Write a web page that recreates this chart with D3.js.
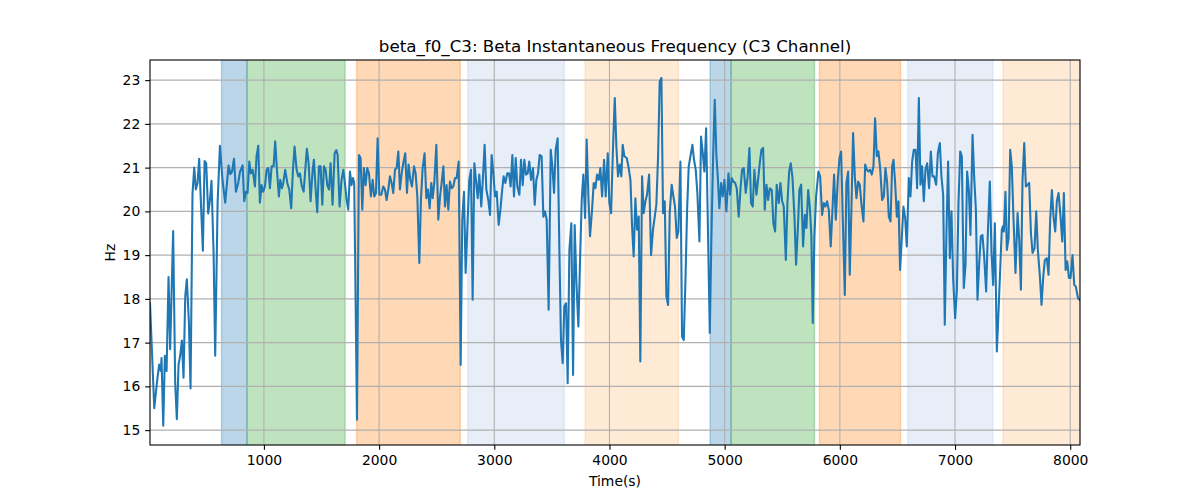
<!DOCTYPE html>
<html>
<head>
<meta charset="utf-8">
<script src="https://cdn.jsdelivr.net/npm/d3@7"></script>
<style>
  html, body { margin: 0; padding: 0; background: #ffffff; }
  svg { display: block; font-family: "DejaVu Sans", sans-serif; }
</style>
</head>
<body>
<svg id="chart" width="1200" height="500"></svg>
<script>
// ---- data ----
const chartTitle = "beta_f0_C3: Beta Instantaneous Frequency (C3 Channel)";
const xLabel = "Time(s)";
const yLabel = "Hz";
const xTicks = [1000, 2000, 3000, 4000, 5000, 6000, 7000, 8000];
const yTicks = [15, 16, 17, 18, 19, 20, 21, 22, 23];
const xDomain = [11, 8085];
const yDomain = [14.66, 23.46];

const times = [
  11,48,76,91,105,111,126,140,155,172,186,212,230,244,259,273,288,302,317,331,349,363,380,395,409,424,438,453,470,485,499,516,531,545,563,577,598,618,641,664,693,708,722,740,757,777,792,815,
  829,844,858,873,887,902,910,922,936,951,965,980,994,1009,1023,1038,1052,1067,1084,1098,1113,1130,1142,1156,1168,1185,1203,1220,1237,1252,1266,1284,1298,1313,1327,1345,1359,1373,1388,1405,1423,1434,1449,1463,1478,1492,1507,1521,1536,1550,1565,1579,1596,1614,1628,
  1640,1657,1674,1689,1703,1718,1732,1747,1761,1773,1784,1793,1808,1825,1839,1854,1868,1883,1897,1912,1929,1944,1958,1973,1987,2002,2019,2036,2051,2065,2080,2094,2109,2123,2138,2152,2167,2181,2196,2210,2227,2242,2256,2271,2285,2303,2317,2332,2349,2363,2378,2395,2410,2424,2439,2453,
  2465,2479,2497,2514,2529,2543,2558,2572,2586,2601,2615,2630,2644,2659,2673,2691,2708,2722,2737,2751,2769,2783,2798,2812,2827,2841,2856,2870,2887,2902,2916,2931,2948,2963,2977,2992,3006,3021,3038,3053,3067,3081,3096,3113,3128,3142,3157,3171,3186,3200,3218,3232,3247,3261,3275,
  3290,3304,3319,3336,3351,3365,3380,3394,3411,3426,3440,3455,3472,3490,3504,3519,3533,3550,3565,3579,3594,3608,3623,3637,3652,3669,3684,3698,3713,3730,3744,3759,3773,3788,3802,3817,3831,3849,3863,3878,3892,3907,3921,3936,3953,3967,3985,3999,4014,4031,4046,4060,4074,4089,4103,
  4115,4129,4150,4167,4182,4196,4210,4225,4239,4254,4268,4283,4297,4312,4326,4344,4361,4378,4393,4407,4422,4436,4451,4465,4480,4494,4509,4523,4540,4555,4569,4584,4598,4616,4630,4645,4659,4674,4688,4703,4720,4734,4749,4763,4781,4795,4810,4824,4839,4856,4871,4885,4900,4914,4928,
  4940,4954,4969,4983,4998,5015,5033,5047,5062,5076,5091,5105,5122,5137,5151,5166,5183,5200,5215,5229,5244,5258,5276,5290,5305,5319,5334,5348,5363,5377,5392,5409,5423,5438,5452,5470,5484,5499,5513,5531,5545,5560,5574,5589,5606,5620,5635,5649,5664,5681,5696,5710,5725,5739,5753,5765,
  5779,5794,5814,5829,5846,5861,5875,5889,5904,5921,5936,5950,5965,5982,5997,6011,6026,6043,6057,6072,6086,6101,6115,6130,6144,6159,6173,6188,6205,6220,6234,6248,6263,6277,6292,6306,6321,6335,6350,6367,6382,6396,6411,6425,6440,6454,6466,6480,6495,6509,6523,6538,6552,6567,6581,
  6599,6613,6628,6642,6657,6671,6686,6700,6714,6729,6743,6758,6775,6790,6804,6819,6836,6851,6868,6882,6897,6911,6926,6940,6955,6969,6984,7001,7016,7030,7045,7059,7076,7091,7105,7120,7134,7152,7166,7181,7195,7210,7224,7238,7253,7270,7285,7302,7317,7331,7346,7363,7377,7392,7406,
  7415,7424,7438,7450,7465,7479,7493,7508,7525,7543,7557,7572,7586,7601,7615,7630,7644,7659,7673,7690,7705,7719,7737,7751,7766,7780,7797,7812,7826,7841,7855,7870,7884,7899,7916,7931,7945,7960,7974,7989,8003,8020,8035,8049,8067,8081
];

const frequency = [
  17.9,15.5,16.2,16.5,16.35,16.65,15.1,16.7,16.35,18.5,16.85,19.55,16.05,15.25,16.5,16.7,17.05,16.2,18.05,18.45,17.45,15.95,20.4,21.0,20.5,20.65,21.2,20.2,19.1,21.15,21.1,19.95,20.25,20.7,19.05,16.7,20.2,21.5,20.7,20.2,21.05,20.85,20.9,21.2,20.45,20.65,20.9,21.05,
  20.23,20.45,20.42,21.14,20.87,20.95,20.8,20.57,21.26,21.5,20.2,20.6,20.45,20.57,20.95,20.99,20.53,21.03,21.03,21.6,20.95,20.34,20.72,20.53,20.65,20.95,20.65,20.5,20.07,20.95,21.48,20.95,20.8,20.87,20.6,20.45,20.95,21.43,21.1,20.23,20.95,21.18,20.5,19.98,21.03,21.03,20.15,21.03,20.95,20.6,20.5,21.1,20.15,21.33,21.4,
  21.29,20.11,20.72,20.95,20.65,20.26,20.04,20.91,20.6,20.76,20.65,18.66,15.24,21.29,21.22,20.04,20.99,20.6,20.99,20.87,20.34,20.72,20.34,20.42,21.67,20.38,20.38,20.57,20.5,20.26,20.5,20.8,20.65,20.42,20.95,20.99,21.37,20.5,20.87,21.1,21.33,20.42,21.07,20.72,20.57,21.03,20.87,20.34,18.82,20.26,20.99,21.33,20.3,20.5,20.07,20.65,
  20.3,20.65,21.52,19.81,20.34,20.65,21.03,20.11,20.6,20.04,20.68,20.53,20.57,20.76,20.76,21.14,16.49,19.81,20.45,18.59,19.81,20.72,20.95,17.98,21.1,20.72,20.3,20.84,20.11,20.8,21.52,20.5,20.26,19.92,21.29,20.87,20.34,20.45,19.69,20.04,20.45,20.8,20.65,20.87,20.87,20.57,21.29,20.34,21.22,20.57,20.38,21.18,20.6,21.18,20.84,
  20.87,21.14,20.72,20.99,20.15,20.72,20.87,21.29,21.26,19.88,20.0,19.81,17.75,21.41,21.03,20.42,21.41,21.67,19.12,17.06,16.53,17.83,17.9,16.07,19.12,19.73,16.26,19.69,18.36,17.37,18.82,20.26,20.84,19.85,21.64,20.34,19.43,20.04,20.65,20.53,20.84,20.72,20.99,20.34,21.18,20.34,21.33,20.19,19.96,21.48,22.59,21.48,20.8,21.07,20.8,
  21.52,21.26,21.22,20.99,20.72,19.66,18.97,20.3,19.58,19.88,16.57,20.8,19.96,20.23,20.38,20.84,19.0,19.58,19.88,20.15,21.26,22.97,23.05,19.96,20.23,18.06,17.86,19.96,20.61,20.34,20.11,19.39,19.54,21.14,17.14,17.06,18.36,20.04,21.03,21.26,21.52,21.18,20.95,20.42,19.31,21.71,21.33,20.91,21.9,19.43,17.22,19.43,21.26,22.55,21.29,
  20.8,20.07,20.65,20.34,20.72,20.0,20.87,20.38,20.76,20.68,20.65,20.53,19.88,20.49,20.95,20.99,20.42,20.8,21.45,20.19,20.11,20.95,20.38,20.72,21.1,21.41,21.45,20.04,20.61,20.26,20.53,20.49,19.73,19.54,20.61,20.19,20.65,20.23,20.11,18.89,20.19,20.91,21.1,20.76,19.88,18.78,19.58,20.49,20.61,19.2,19.92,19.62,20.49,20.11,19.43,17.45,
  19.43,20.34,20.91,20.8,19.92,20.19,20.11,20.23,20.04,19.2,20.04,20.84,19.81,20.72,21.22,21.37,19.81,18.09,20.65,20.91,18.55,20.11,21.79,20.8,20.3,20.68,20.61,20.15,19.77,21.07,20.95,20.91,20.95,20.84,21.03,22.13,21.26,21.37,20.99,20.26,20.34,20.99,20.65,19.88,19.77,21.03,21.18,20.65,19.88,20.23,18.66,19.39,20.11,19.85,19.2,
  20.76,20.34,21.14,21.41,21.41,20.53,22.59,20.61,21.03,20.23,20.95,21.1,20.53,21.37,20.8,20.8,20.61,21.33,21.56,20.8,20.38,17.41,19.58,21.14,18.93,20.0,18.44,17.56,18.21,20.19,21.37,21.26,18.25,18.78,20.91,20.49,19.46,21.75,20.8,20.04,17.98,18.82,19.43,19.46,18.97,18.17,19.5,20.68,19.05,18.32,19.73,16.8,17.67,18.66,19.58,
  19.66,19.54,20.45,19.12,19.39,21.41,21.03,19.81,18.59,19.96,19.35,18.21,20.72,21.56,20.57,20.61,20.65,19.5,19.05,19.16,20.0,19.12,18.51,17.86,18.51,18.89,18.93,18.55,19.81,20.49,19.88,19.54,20.23,20.42,19.88,19.31,20.42,18.66,18.86,18.48,18.48,19.0,18.32,18.28,18.02,17.98
];

// shaded intervals (start, end, colour)
const bandStarts = [632, 853, 1805, 2769, 3788, 4873, 5056, 5823, 6590, 7416];
const bandEnds   = [853, 1705, 2705, 3608, 4599, 5056, 5780, 6527, 7329, 8085];
const bandColors = ["#1f77b4", "#2ca02c", "#ff7f0e", "#aec7e8", "#ffbb78",
                    "#1f77b4", "#2ca02c", "#ff7f0e", "#aec7e8", "#ffbb78"];

// ---- layout ----
const svg = d3.select("#chart");
const L = 150, R = 1080, T = 60, B = 445;
const x = d3.scaleLinear().domain(xDomain).range([L, R]);
const y = d3.scaleLinear().domain(yDomain).range([B, T]);
const tickLen = 4.86, tickPad = 4.86;

svg.append("clipPath").attr("id", "plotclip")
  .append("rect").attr("x", L).attr("y", T).attr("width", R - L).attr("height", B - T);

const plot = svg.append("g").attr("clip-path", "url(#plotclip)");

// bands
plot.append("g").selectAll("rect")
  .data(d3.range(bandStarts.length))
  .join("rect")
  .attr("x", i => x(bandStarts[i]))
  .attr("width", i => x(bandEnds[i]) - x(bandStarts[i]))
  .attr("y", T - 2).attr("height", B - T + 4)
  .attr("fill", i => bandColors[i])
  .attr("fill-opacity", 0.3)
  .attr("stroke", i => bandColors[i])
  .attr("stroke-opacity", 0.3)
  .attr("stroke-width", 1.39);

// grid
const grid = plot.append("g").attr("stroke", "#b0b0b0").attr("stroke-width", 1.1);
grid.selectAll("line.gx").data(xTicks).join("line").attr("class", "gx")
  .attr("x1", d => x(d)).attr("x2", d => x(d)).attr("y1", T).attr("y2", B);
grid.selectAll("line.gy").data(yTicks).join("line").attr("class", "gy")
  .attr("x1", L).attr("x2", R).attr("y1", d => y(d)).attr("y2", d => y(d));

// line
const pts = d3.zip(times, frequency);
plot.append("path")
  .datum(pts)
  .attr("fill", "none")
  .attr("stroke", "#1f77b4")
  .attr("stroke-width", 2.08)
  .attr("stroke-linejoin", "round")
  .attr("stroke-linecap", "square")
  .attr("d", d3.line().x(d => x(d[0])).y(d => y(d[1])));

// axes
const xAxis = d3.axisBottom(x).tickValues(xTicks).tickFormat(d3.format("d"))
  .tickSizeInner(tickLen).tickSizeOuter(0).tickPadding(tickPad);
const yAxis = d3.axisLeft(y).tickValues(yTicks).tickFormat(d3.format("d"))
  .tickSizeInner(tickLen).tickSizeOuter(0).tickPadding(tickPad);

const gx = svg.append("g").attr("transform", `translate(0,${B})`).call(xAxis);
const gy = svg.append("g").attr("transform", `translate(${L},0)`).call(yAxis);
[gx, gy].forEach(g => {
  g.select(".domain").remove();
  g.selectAll(".tick line").attr("stroke", "#000").attr("stroke-width", 1.1);
  g.selectAll(".tick text").attr("fill", "#000")
    .style("font-family", "DejaVu Sans, sans-serif").style("font-size", "13.9px");
});

// spines
svg.append("rect").attr("x", L).attr("y", T).attr("width", R - L).attr("height", B - T)
  .attr("fill", "none").attr("stroke", "#000").attr("stroke-width", 1.1);

// labels
svg.append("text").attr("x", (L + R) / 2).attr("y", 52)
  .attr("text-anchor", "middle").style("font-size", "16.7px").attr("fill", "#000")
  .text(chartTitle);
svg.append("text").attr("x", (L + R) / 2).attr("y", 486)
  .attr("text-anchor", "middle").style("font-size", "13.9px").attr("fill", "#000")
  .text(xLabel);
svg.append("text").attr("transform", `translate(115,${(T + B) / 2}) rotate(-90)`)
  .attr("text-anchor", "middle").style("font-size", "13.9px").attr("fill", "#000")
  .text(yLabel);
</script>
</body>
</html>
